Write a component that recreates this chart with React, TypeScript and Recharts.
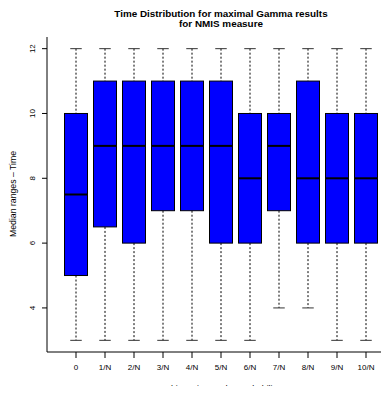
import React from "react";
import { ComposedChart, Bar, XAxis, YAxis, Customized } from "recharts";

const categories = ["0", "1/N", "2/N", "3/N", "4/N", "5/N", "6/N", "7/N", "8/N", "9/N", "10/N"];
const whiskerLow = [3, 3, 3, 3, 3, 3, 3, 4, 4, 3, 3];
const q1Values = [5, 6.5, 6, 7, 7, 6, 6, 7, 6, 6, 6];
const medians = [7.5, 9, 9, 9, 9, 9, 8, 9, 8, 8, 8];
const q3Values = [10, 11, 11, 11, 11, 11, 10, 10, 11, 10, 10];
const whiskerHigh = [12, 12, 12, 12, 12, 12, 12, 12, 12, 12, 12];
const yTicks = [4, 6, 8, 10, 12];

const data = categories.map((label, i) => ({
  label,
  min: whiskerLow[i],
  q1: q1Values[i],
  median: medians[i],
  q3: q3Values[i],
  max: whiskerHigh[i],
}));

const FONT = "'Liberation Sans', Arial, Helvetica, sans-serif";

const BoxShape = (props: any) => {
  const { x, y, width, height, payload } = props;
  if (payload == null || height == null) return null;
  const { min, q1, median, q3, max } = payload;
  const py = (v: number) => y + (height * (max - v)) / (max - min);
  const cx = x + width / 2;
  const capHalf = width / 4;
  return (
    <g>
      <line x1={cx} x2={cx} y1={py(max)} y2={py(q3)} stroke="#000" strokeDasharray="2 2" />
      <line x1={cx} x2={cx} y1={py(q1)} y2={py(min)} stroke="#000" strokeDasharray="2 2" />
      <line x1={cx - capHalf} x2={cx + capHalf} y1={py(max)} y2={py(max)} stroke="#333" />
      <line x1={cx - capHalf} x2={cx + capHalf} y1={py(min)} y2={py(min)} stroke="#333" />
      <rect x={x} y={py(q3)} width={width} height={py(q1) - py(q3)} fill="#0000FF" stroke="#000" strokeWidth={1} />
      <line x1={x} x2={x + width} y1={py(median)} y2={py(median)} stroke="#000" strokeWidth={2} />
    </g>
  );
};

const XTick = (props: any) => {
  const { x, y, payload } = props;
  return (
    <text x={x} y={y + 10} textAnchor="middle" fontSize={8} fontFamily={FONT} fill="#000">
      {payload.value}
    </text>
  );
};

const YTick = (props: any) => {
  const { y, payload } = props;
  return (
    <text
      x={32}
      y={y}
      transform={`rotate(-90, 32, ${y})`}
      textAnchor="middle"
      dy="0.35em"
      fontSize={8}
      fontFamily={FONT}
      fill="#000"
    >
      {payload.value}
    </text>
  );
};

const Texts = () => (
  <g fontFamily={FONT} fill="#000">
    <text x={221} y={16.5} textAnchor="middle" fontSize={9.9} fontWeight="bold">
      Time Distribution for maximal Gamma results
    </text>
    <text x={221} y={27} textAnchor="middle" fontSize={9.9} fontWeight="bold">
      for  NMIS measure
    </text>
    <text x={221} y={392} textAnchor="middle" fontSize={8.7}>
      White noise – edge probability
    </text>
    <text
      x={13}
      y={194}
      transform="rotate(-90, 13, 194)"
      textAnchor="middle"
      dy="0.35em"
      fontSize={8.7}
    >
      Median ranges – Time
    </text>
  </g>
);

export default function App() {
  return (
    <div style={{ margin: "-8px 0 -8px -8px", width: 389, height: 394, overflow: "hidden", background: "#fff" }}>
      <ComposedChart
        width={400}
        height={394}
        data={data}
        margin={{ top: 37, right: 5, bottom: 12, left: 0 }}
      >
        <XAxis
          dataKey="label"
          type="category"
          padding={{ left: 14.5, right: 14.5 }}
          height={30}
          tickSize={6}
          tickLine={{ stroke: "#000" }}
          axisLine={{ stroke: "#000" }}
          tick={<XTick />}
          interval={0}
        />
        <XAxis
          xAxisId="top"
          orientation="top"
          dataKey="label"
          height={0}
          tick={false}
          tickLine={false}
          axisLine={{ stroke: "#000" }}
        />
        <YAxis
          type="number"
          domain={[2.64, 12.36]}
          ticks={yTicks}
          width={47}
          tickSize={5}
          tickLine={{ stroke: "#000" }}
          axisLine={{ stroke: "#000" }}
          tick={<YTick />}
          allowDataOverflow
        />
        <Bar
          dataKey={(d: any) => [d.min, d.max]}
          barSize={23}
          shape={<BoxShape />}
          isAnimationActive={false}
        />
        <Customized component={Texts} />
      </ComposedChart>
    </div>
  );
}
